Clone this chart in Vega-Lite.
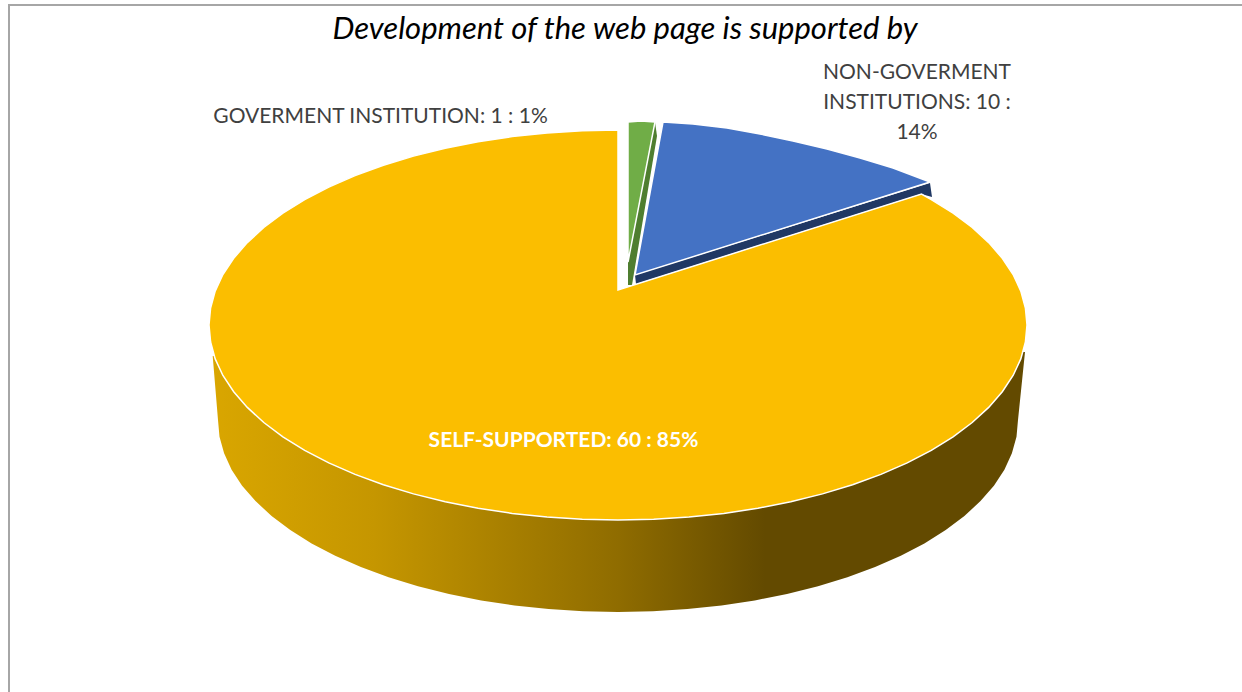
{"$schema":"https://vega.github.io/schema/vega-lite/v6.json","description":"Development of the web page is supported by","width":1242,"height":692,"autosize":"none","padding":0,"background":"white","config":{"view":{"stroke":null}},"projection":{"type":"identity","reflectY":false,"scale":1,"translate":[0,0]},"layer":[{"data":{"values":[{"type":"Feature","properties":{"name":"frame"},"geometry":{"type":"LineString","coordinates":[[1242,5],[9,5],[9,692]]}}]},"mark":{"type":"geoshape","filled":false,"clip":false,"stroke":"#a6a6a6","strokeWidth":2}},{"data":{"values":[{"type":"Feature","properties":{"name":"SELF-SUPPORTED side"},"geometry":{"type":"Polygon","coordinates":[[[212.7,356],[218,420],[219.5,436.7],[224.1,453.3],[231.6,469.7],[242.1,485.7],[255.5,501.1],[271.6,516],[290.3,530.1],[311.6,543.4],[335.2,555.8],[360.9,567.1],[388.6,577.3],[418,586.3],[449,594],[481.2,600.4],[514.5,605.5],[548.6,609.1],[583.1,611.3],[618,612],[652.9,611.3],[687.4,609.1],[721.5,605.5],[754.8,600.4],[787,594],[818,586.3],[847.4,577.3],[875.1,567.1],[900.8,555.8],[924.4,543.4],[945.7,530.1],[964.4,516],[980.5,501.1],[993.9,485.7],[1004.4,469.7],[1011.9,453.3],[1016.5,436.7],[1018,420],[1025,352],[618,340],[212.7,356]]]}}]},"mark":{"type":"geoshape","stroke":null,"fill":{"gradient":"linear","x1":0,"x2":1,"y1":0,"y2":0,"stops":[{"offset":0,"color":"#d9a600"},{"offset":0.2,"color":"#c59600"},{"offset":0.5,"color":"#8f6c00"},{"offset":0.68,"color":"#634a00"},{"offset":1,"color":"#634a00"}]}}},{"data":{"values":[{"type":"Feature","properties":{"name":"NON-GOVERMENT side"},"geometry":{"type":"Polygon","coordinates":[[[930,183],[932,197],[921,194],[636,284],[635,275],[930,183]]]}},{"type":"Feature","properties":{"name":"GOVERMENT side"},"geometry":{"type":"Polygon","coordinates":[[[655,122],[657,136],[632,285],[628,285],[628,262],[655,122]]]}}]},"mark":{"type":"geoshape","stroke":null},"encoding":{"color":{"field":"properties.name","type":"nominal","legend":null,"scale":{"domain":["SELF-SUPPORTED","GOVERMENT INSTITUTION","NON-GOVERMENT INSTITUTIONS","NON-GOVERMENT side","GOVERMENT side"],"range":["#fbbe00","#70ad47","#4472c4","#203864","#4f7e30"]}}}},{"data":{"values":[{"type":"Feature","properties":{"name":"SELF-SUPPORTED","value":60,"share":85},"geometry":{"type":"Polygon","coordinates":[[[618,290],[618,130],[582.3,130.7],[547,133],[512.2,136.6],[478.1,141.8],[445.2,148.3],[413.5,156.1],[383.4,165.3],[355.1,175.6],[328.8,187.1],[304.7,199.7],[282.9,213.2],[263.8,227.5],[247.3,242.6],[233.7,258.3],[222.9,274.5],[215.2,291.1],[210.6,308],[209,325],[210.6,342],[215.2,358.9],[222.9,375.5],[233.7,391.7],[247.3,407.4],[263.8,422.5],[282.9,436.8],[304.7,450.3],[328.8,462.9],[355.1,474.4],[383.4,484.7],[413.5,493.9],[445.2,501.7],[478.1,508.2],[512.2,513.4],[547,517],[582.3,519.3],[618,520],[653.7,519.3],[689,517],[723.8,513.4],[757.9,508.2],[790.8,501.7],[822.5,493.9],[852.6,484.7],[880.9,474.4],[907.2,462.9],[931.3,450.3],[953.1,436.8],[972.2,422.5],[988.7,407.4],[1002.3,391.7],[1013.1,375.5],[1020.8,358.9],[1025.4,342],[1027,325],[1025.4,308],[1020.8,291.1],[1013.1,274.5],[1002.3,258.3],[988.7,242.6],[972.2,227.5],[953.1,213.2],[931.3,199.7],[921.5,194],[618,290]]]}},{"type":"Feature","properties":{"name":"GOVERMENT INSTITUTION","value":1,"share":1},"geometry":{"type":"Polygon","coordinates":[[[628,262],[628,122],[641,121],[655,122],[628,262]]]}},{"type":"Feature","properties":{"name":"NON-GOVERMENT INSTITUTIONS","value":10,"share":14},"geometry":{"type":"Polygon","coordinates":[[[635,275],[663,122],[693,124],[727,128],[760,134],[793,141],[827,149],[860,158],[893,168],[930,182],[635,275]]]}}]},"mark":{"type":"geoshape","stroke":"#ffffff","strokeWidth":1.5},"encoding":{"color":{"field":"properties.name","type":"nominal","legend":null,"scale":{"domain":["SELF-SUPPORTED","GOVERMENT INSTITUTION","NON-GOVERMENT INSTITUTIONS","NON-GOVERMENT side","GOVERMENT side"],"range":["#fbbe00","#70ad47","#4472c4","#203864","#4f7e30"]}}}},{"data":{"values":[{"label":"Development of the web page is supported by","lon":625,"lat":39}]},"mark":{"type":"text","font":"Lato","fontSize":31,"fontStyle":"italic","color":"#000000","align":"center","baseline":"alphabetic"},"encoding":{"longitude":{"field":"lon","type":"quantitative"},"latitude":{"field":"lat","type":"quantitative"},"text":{"field":"label","type":"nominal"}}},{"data":{"values":[{"label":"GOVERMENT INSTITUTION: 1 : 1%","lon":380.5,"lat":117},{"label":"NON-GOVERMENT\nINSTITUTIONS: 10 :\n14%","lon":917,"lat":73}]},"mark":{"type":"text","font":"Lato","fontSize":21,"color":"#404040","align":"center","baseline":"middle","lineBreak":"\n","lineHeight":30},"encoding":{"longitude":{"field":"lon","type":"quantitative"},"latitude":{"field":"lat","type":"quantitative"},"text":{"field":"label","type":"nominal"}}},{"data":{"values":[{"label":"SELF-SUPPORTED: 60 : 85%","lon":563.5,"lat":441}]},"mark":{"type":"text","font":"Lato","fontSize":21,"fontWeight":"bold","color":"#ffffff","align":"center","baseline":"middle"},"encoding":{"longitude":{"field":"lon","type":"quantitative"},"latitude":{"field":"lat","type":"quantitative"},"text":{"field":"label","type":"nominal"}}}]}
